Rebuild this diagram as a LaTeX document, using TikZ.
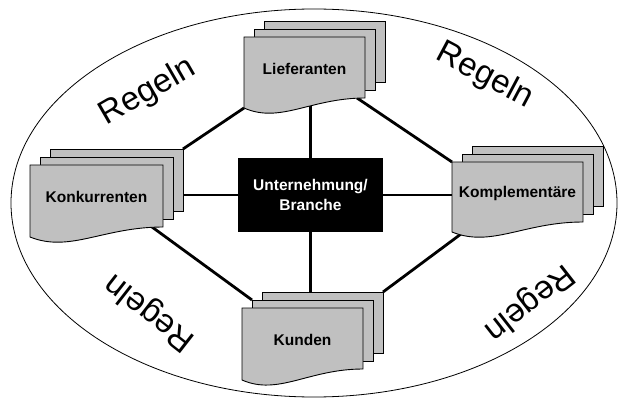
\documentclass[tikz,border=0pt]{standalone}
\usepackage{fontspec}
\setmainfont{Liberation Sans}
\usetikzlibrary{backgrounds}

\definecolor{sheetgray}{HTML}{C0C0C0}

\tikzset{
    sheet/.style={draw=black, fill=sheetgray, line width=0.9pt},
    link/.style={line width=2.8pt},
    stacklabel/.style={font=\bfseries\fontsize{15.5}{19}\selectfont},
    rulelabel/.style={font=\fontsize{33}{36}\selectfont, inner sep=0pt},
    % stack of three sheets, front one with a wavy lower edge
    pics/pagestack/.style n args={4}{code={
        \draw[sheet] (20,-16) rectangle ++(#1,#2);
        \draw[sheet] (10,-8) rectangle ++(#1,#2);
        \draw[sheet] (0,0) -- (#1,0) -- (#1,#2)
            .. controls ({0.55*#1},#2) and ({0.3*#1},{#3+16}) .. (0,#3) -- cycle;
        \node[stacklabel] (-txt) at ({#1/2},{#2/2+1}) {#4};
        \coordinate (-nw) at (0,0);
        \coordinate (-sw) at (0,#3);
        \coordinate (-se) at (#1,#2);
        \coordinate (-mnw) at (10,-8);
        \coordinate (-bne) at ({#1+20},-16);
    }}
}

\begin{document}
\begin{tikzpicture}[x=1pt, y=-1pt]
        \useasboundingbox (0,0) rectangle (618,398);

        % the four sheet stacks
        \pic (lief) at (244,37) {pagestack={121}{61}{71}{Lieferanten}};
        \pic (konk) at (30,165) {pagestack={133}{62}{72}{Konkurrenten}};
        \pic (kompl) at (452,162) {pagestack={131}{60}{70}{Komplementäre}};
        \pic (kund) at (242,308) {pagestack={121}{61}{72}{Kunden}};

        % black box in the middle
        \node[fill=black, text=white, minimum width=145pt, minimum height=74pt,
              align=center, font=\bfseries\fontsize{15.5}{19.5}\selectfont]
              (firm) at (310.5,195) {Unternehmung/\\Branche};

        \begin{pgfonlayer}{background}
            % outer ellipse
            \draw[line width=0.8pt] (314,203) ellipse [x radius=303pt, y radius=194pt];

            % lines from the box to the stacks
            \draw[link] (firm) -- (firm |- lief-txt);
            \draw[link] (firm) -- (firm |- kund-txt);
            \draw[link] (firm) -- (firm -| konk-txt);
            \draw[link] (firm) -- (firm -| kompl-txt);

            % lines round the ring
            \draw[link] (konk-bne) -- (lief-sw);
            \draw[link] ([xshift=-8pt]lief-se) -- (kompl-nw);
            \draw[link] ([xshift=-11pt]konk-se) -- (kund-mnw);
            \draw[link] ([xshift=9pt,yshift=-2pt]kompl-sw) -- (kund-bne);
        \end{pgfonlayer}

        % rules written round the ellipse
        \node[rulelabel, rotate=30] (rtl) at (148,92) {Regeln};
        \node[rulelabel, rotate=-28] (rtr) at (485,76) {Regeln};
        \node[rulelabel, rotate=142] (rbl) at (150,312) {Regeln};
        \node[rulelabel, rotate=-142] (rbr) at (529,302) {Regeln};
    \end{tikzpicture}
\end{document}
